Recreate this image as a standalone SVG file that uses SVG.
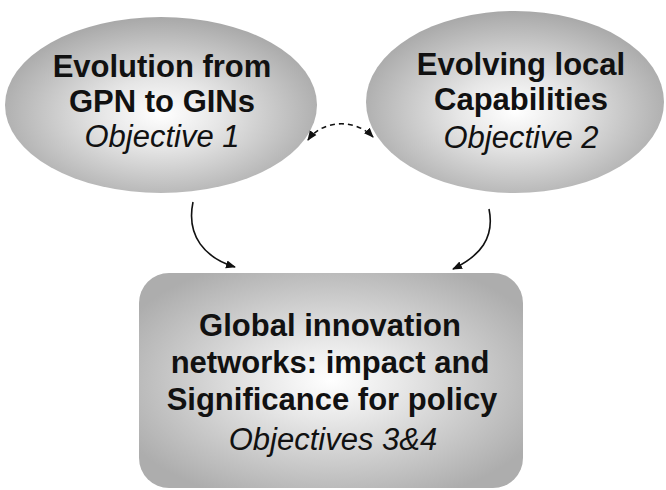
<svg xmlns="http://www.w3.org/2000/svg" width="666" height="490" viewBox="0 0 666 490">
<defs>
<radialGradient id="g" cx="0.5" cy="0.55" r="0.55">
<stop offset="0" stop-color="#ffffff"/>
<stop offset="0.35" stop-color="#e6e6e6"/>
<stop offset="1" stop-color="#a8a8a8"/>
</radialGradient>
<radialGradient id="gr" cx="0.5" cy="0.5" r="0.6">
<stop offset="0" stop-color="#ffffff"/>
<stop offset="0.3" stop-color="#e8e8e8"/>
<stop offset="1" stop-color="#adadad"/>
</radialGradient>
<marker id="ah" viewBox="0 0 10 10" refX="9" refY="5" markerWidth="10" markerHeight="10" markerUnits="userSpaceOnUse" orient="auto-start-reverse">
<path d="M0,1 L10,5 L0,9 Z" fill="#111"/>
</marker>
<style>
.t{font-family:"Liberation Sans",Arial,sans-serif;font-size:31px;fill:#111;text-anchor:middle}
.b{font-weight:bold}
.i{font-style:italic}
.c{fill:none;stroke:#111;stroke-width:1.6}
</style>
</defs>
<g id="node1">
<ellipse cx="161" cy="105" rx="156" ry="88" fill="url(#g)"/>
<text class="t b" x="162" y="77">Evolution from</text>
<text class="t b" x="162" y="112">GPN to GINs</text>
<text class="t i" x="162" y="147">Objective 1</text>
</g>
<g id="node2">
<ellipse cx="515" cy="102" rx="149" ry="91" fill="url(#g)"/>
<text class="t b" x="521" y="75">Evolving local</text>
<text class="t b" x="521" y="110">Capabilities</text>
<text class="t i" x="521" y="148">Objective 2</text>
</g>
<g id="node3">
<rect x="139" y="273" width="384" height="215" rx="30" fill="url(#gr)"/>
<text class="t b" x="330" y="336">Global innovation</text>
<text class="t b" x="330" y="373">networks: impact and</text>
<text class="t b" x="332" y="410">Significance for policy</text>
<text class="t i" x="333" y="450">Objectives 3&amp;4</text>
</g>
<g id="connectors">
<path class="c" d="M193,202 C186,236 205,258 235,267" marker-end="url(#ah)"/>
<path class="c" d="M489,209 C495,238 480,256 453,269" marker-end="url(#ah)"/>
<path class="c" d="M308,140 C322,120 355,118 373,137" stroke-dasharray="5,4" marker-start="url(#ah)" marker-end="url(#ah)"/>
</g>
</svg>
